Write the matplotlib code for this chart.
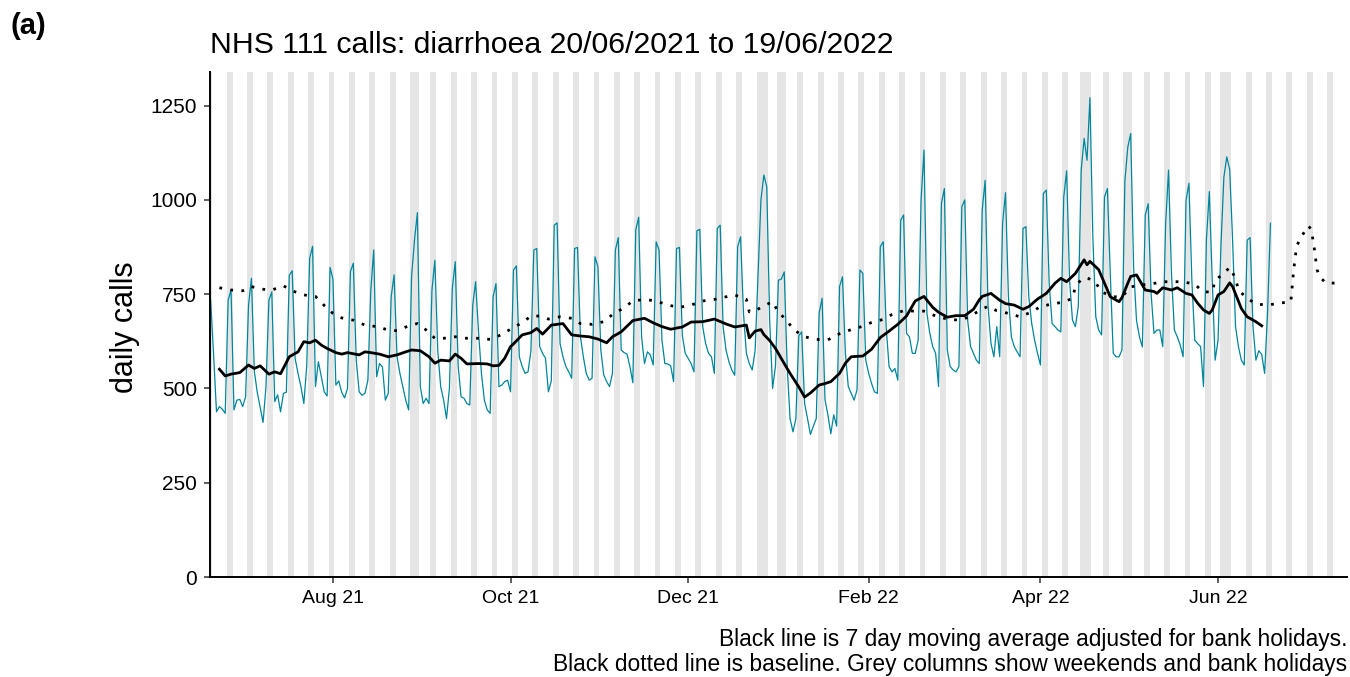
import matplotlib
matplotlib.use("Agg")
import matplotlib.pyplot as plt
import matplotlib.dates as mdates
import pandas as pd

plt.rcParams["font.family"] = ["Liberation Sans", "DejaVu Sans"]

# Daily NHS 111 diarrhoea calls, 20/06/2021 (Sunday) to 19/06/2022, one row per week Sun..Sat
start = pd.Timestamp("2021-06-20")
calls = [
    734, 590, 438, 452, 445, 434, 734,
    761, 443, 469, 471, 452, 478, 720,
    792, 545, 490, 450, 410, 505, 734,
    756, 465, 483, 438, 487, 490, 800,
    812, 580, 540, 505, 460, 560, 845,
    877, 505, 571, 531, 491, 480, 821,
    790, 509, 520, 490, 475, 500, 810,
    832, 575, 491, 482, 487, 522, 760,
    867, 531, 566, 557, 469, 487, 743,
    801, 584, 540, 505, 469, 443, 796,
    893, 966, 505, 460, 474, 460, 760,
    840, 600, 505, 470, 420, 500, 765,
    836, 560, 478, 474, 460, 456, 720,
    783, 650, 540, 469, 443, 434, 743,
    778, 505, 509, 518, 522, 491, 814,
    825, 584, 558, 540, 544, 600, 867,
    871, 611, 593, 580, 491, 520, 933,
    939, 619, 584, 558, 544, 527, 871,
    874, 637, 584, 540, 522, 527, 849,
    823, 602, 536, 518, 505, 540, 867,
    900, 602, 595, 591, 558, 515, 920,
    954, 637, 566, 597, 589, 562, 889,
    867, 628, 566, 565, 560, 518, 871,
    874, 640, 593, 580, 566, 544, 918,
    922, 664, 619, 593, 584, 540, 924,
    933, 664, 602, 571, 549, 535, 876,
    902, 700, 593, 566, 549, 600, 800,
    1000, 1066, 1035, 680, 500, 560, 787,
    790, 809, 560, 420, 385, 420, 640,
    650, 460, 420, 378, 400, 420, 700,
    739, 470, 430, 380, 430, 400, 770,
    796, 593, 505, 487, 469, 496, 814,
    805, 575, 540, 513, 491, 487, 876,
    889, 664, 558, 544, 553, 522, 946,
    960, 646, 637, 593, 593, 628, 1000,
    1132, 700, 646, 611, 593, 505, 991,
    1030, 602, 558, 549, 544, 558, 982,
    1000, 681, 611, 593, 575, 566, 973,
    1052, 720, 620, 584, 664, 584, 938,
    1019, 743, 637, 611, 597, 584, 924,
    929, 743, 672, 628, 593, 562, 1017,
    1026, 779, 672, 664, 655, 650, 1008,
    1077, 787, 681, 664, 717, 1079, 1163,
    1105, 1271, 900, 690, 655, 642, 1008,
    1030, 800, 593, 584, 584, 602, 1050,
    1140, 1176, 820, 680, 637, 610, 960,
    990, 752, 646, 655, 655, 611, 938,
    1079, 805, 655, 637, 615, 584, 999,
    1044, 787, 628, 619, 611, 505, 893,
    1022, 787, 575, 628, 880, 1060, 1114,
    1080, 893, 664, 611, 575, 562, 893,
    900, 664, 575, 600, 590, 540, 700,
    938,
]

# 7 day moving average (adjusted for bank holidays), days since 20/06/2021
ma_day = [3, 5, 7, 10, 13, 15, 17, 20, 22, 24, 27, 30, 32, 34, 36, 38, 40, 43, 45, 47,
          51, 53, 55, 58, 61, 64, 67, 69, 72, 75, 77, 79, 82, 84, 86, 88, 92, 95, 97, 99,
          101, 103, 104, 107, 110, 112, 114, 117, 121, 124, 127, 130, 133, 136, 138, 141, 145, 149, 152, 155,
          158, 162, 165, 169, 173, 177, 180, 184, 185, 187, 189, 190, 192, 194, 197, 199, 202, 204, 206, 209,
          211, 213, 216, 218, 220, 224, 227, 230, 233, 236, 239, 242, 245, 248, 250, 253, 256, 259, 262, 264,
          265, 268, 271, 273, 276, 279, 281, 284, 287, 290, 292, 294, 297, 300, 301, 302, 305, 307, 309, 312,
          313, 315, 316, 318, 321, 324, 325, 327, 330, 332, 335, 337, 339, 341, 343, 344, 346, 348, 350, 351,
          354, 356, 359, 361]
ma_val = [551, 533, 538, 542, 562, 553, 560, 538, 544, 539, 584, 597, 624, 621, 628, 615, 606, 595, 591, 595,
          589, 597, 595, 591, 584, 589, 597, 602, 600, 584, 567, 575, 573, 591, 580, 565, 566, 565, 560, 561,
          580, 611, 618, 642, 648, 659, 644, 668, 672, 642, 639, 637, 631, 621, 637, 650, 680, 686, 674, 664,
          657, 663, 676, 677, 684, 671, 663, 668, 634, 652, 656, 643, 627, 606, 566, 540, 504, 477, 488, 509,
          513, 518, 540, 567, 584, 586, 604, 635, 652, 670, 692, 732, 744, 715, 702, 689, 693, 693, 710, 735,
          744, 752, 734, 725, 721, 710, 717, 737, 752, 779, 792, 783, 805, 841, 828, 837, 815, 779, 743, 730,
          741, 779, 797, 801, 761, 757, 752, 767, 761, 767, 752, 748, 726, 708, 699, 708, 748, 757, 780, 770,
          712, 690, 677, 666]

# baseline, days since 20/06/2021
bl_day = [3, 7, 11, 14, 18, 21, 25, 29, 32, 36, 39, 42, 45, 49, 53, 57, 61, 64, 68, 71,
          74, 77, 80, 84, 88, 92, 96, 100, 104, 107, 110, 113, 116, 120, 124, 127, 131, 135, 138, 142,
          145, 149, 153, 157, 161, 165, 169, 173, 177, 180, 184, 185, 187, 190, 193, 195, 198, 200, 204, 208,
          212, 216, 220, 224, 227, 231, 234, 238, 242, 245, 249, 253, 257, 260, 264, 267, 270, 274, 278, 282,
          285, 289, 293, 296, 297, 299, 301, 304, 306, 310, 313, 316, 319, 323, 327, 331, 334, 338, 341, 344,
          345, 348, 350, 352, 353, 356, 359, 363, 367, 371, 372, 373, 375, 377, 378, 379, 380, 381, 383, 387]
bl_val = [767, 761, 759, 770, 763, 761, 772, 756, 748, 744, 720, 699, 687, 681, 668, 664, 655, 653, 666, 672,
          655, 633, 633, 637, 633, 633, 630, 643, 662, 674, 692, 692, 684, 690, 686, 672, 670, 677, 696, 714,
          732, 736, 732, 721, 715, 721, 732, 736, 743, 748, 736, 703, 706, 719, 730, 702, 680, 657, 637, 630,
          629, 645, 656, 665, 675, 683, 696, 706, 705, 705, 692, 684, 681, 688, 706, 718, 706, 699, 690, 703,
          717, 724, 729, 739, 770, 789, 794, 780, 756, 743, 743, 769, 774, 777, 783, 783, 783, 776, 756, 756,
          787, 805, 821, 792, 761, 739, 724, 721, 726, 730, 816, 878, 907, 931, 922, 875, 815, 795, 780, 779]

bank_holidays = ["2021-08-30", "2021-12-27", "2021-12-28", "2022-01-03", "2022-04-15",
                 "2022-04-18", "2022-05-02", "2022-06-02", "2022-06-03"]

dates = pd.date_range(start, periods=len(calls), freq="D")
ma_dates = start + pd.to_timedelta(ma_day, unit="D")
bl_dates = start + pd.to_timedelta(bl_day, unit="D")
hols = set(pd.to_datetime(bank_holidays))

fig = plt.figure(figsize=(13.5, 6.77), dpi=100)
ax = fig.add_axes([0.1556, 0.1477, 0.8422, 0.7459])

# grey columns for weekends and bank holidays
half = pd.Timedelta(hours=12)
for d in pd.date_range(start - pd.Timedelta(days=1), start + pd.Timedelta(days=392)):
    if d.weekday() >= 5 or d in hols:
        ax.axvspan(d - half, d + half, color="#e5e5e5", lw=0, zorder=0)

ax.plot(dates, calls, color="#00869c", lw=0.9, zorder=2)
ax.plot(bl_dates, bl_val, color="black", lw=2.0, linestyle=(0, (1, 3)), zorder=3)
ax.plot(ma_dates, ma_val, color="black", lw=2.0, zorder=4)

ax.set_xlim(start - pd.Timedelta(hours=5), start + pd.Timedelta(days=390.3))
ax.set_ylim(0, 1339)
ax.set_yticks([0, 250, 500, 750, 1000, 1250])
ax.xaxis.set_major_locator(mdates.MonthLocator(bymonth=[2, 4, 6, 8, 10, 12]))
ax.xaxis.set_major_formatter(mdates.DateFormatter("%b %y"))

for s in ["top", "right"]:
    ax.spines[s].set_visible(False)
for s in ["left", "bottom"]:
    ax.spines[s].set_linewidth(1.4)
    ax.spines[s].set_color("black")
ax.tick_params(axis="both", labelsize=15, length=4.5, width=1.1, color="#333333", pad=5)
ax.tick_params(axis="x", labelsize=14)

fig.text(0.1556, 1 - 53 / 677, "NHS 111 calls: diarrhoea 20/06/2021 to 19/06/2022",
         fontsize=21.8, ha="left", va="baseline")
fig.text(10 / 1350, 1 - 34 / 677, "(a)", fontsize=21, fontweight="bold", ha="left", va="baseline")
fig.text(125 / 1350, 1 - 327 / 677, "daily calls", fontsize=22, rotation=90, ha="center", va="center")
fig.text(1347 / 1350, 1 - 646 / 677, "Black line is 7 day moving average adjusted for bank holidays.",
         fontsize=16.4, ha="right", va="baseline")
fig.text(1347 / 1350, 1 - 671 / 677,
         "Black dotted line is baseline. Grey columns show weekends and bank holidays",
         fontsize=16.4, ha="right", va="baseline")

fig.savefig("out.png", dpi=100)
